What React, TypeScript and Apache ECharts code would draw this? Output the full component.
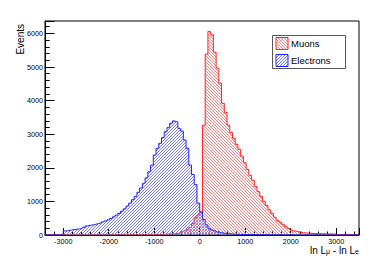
import React, { useEffect, useRef } from "react";
import * as echarts from "echarts";

const xMin = -3400;
const xMax = 3500;
const yMax = 6370;
const binStart = -3000;
const binWidth = 60;
const xTickLabels = [-3000, -2000, -1000, 0, 1000, 2000, 3000];
const yTickLabels = [0, 1000, 2000, 3000, 4000, 5000, 6000];
const seriesNames = ["Muons", "Electrons"];

const muonCounts = [
  0, 0, 0, 0, 0, 0, 0, 0, 0, 0,
  0, 0, 0, 0, 0, 0, 2, 0, 3, 2,
  4, 3, 5, 6, 5, 8, 7, 9, 10, 12,
  12, 14, 13, 16, 18, 20, 22, 25, 28, 33,
  38, 45, 65, 90, 120, 160, 220, 340, 520, 600,
  680, 3270, 5385, 6060, 5960, 5440, 4970, 4520, 3920, 3650,
  3270, 3050, 2880, 2700, 2550, 2350, 2150, 1950, 1780, 1630,
  1450, 1290, 1150, 1000, 880, 750, 650, 530, 430, 380,
  320, 250, 190, 150, 120, 100, 85, 70, 60, 55,
  50, 45, 40, 42, 35, 38, 30, 33, 28, 25,
];

const electronCounts = [
  120, 130, 150, 160, 170, 180, 200, 230, 270, 290,
  300, 320, 340, 360, 390, 420, 450, 490, 540, 590,
  640, 710, 780, 860, 950, 1050, 1150, 1270, 1400, 1540,
  1700, 1880, 2080, 2380, 2580, 2730, 2900, 3075, 3195, 3325,
  3395, 3370, 3175, 3095, 2830, 2580, 2080, 1800, 1500, 950,
  690, 460, 300, 200, 150, 120, 90, 70, 55, 45,
  35, 30, 25, 22, 20, 18, 15, 12, 12, 10,
  10, 8, 8, 7, 6, 5, 5, 4, 4, 3,
  3, 3, 2, 2, 2, 1, 1, 1, 0, 1,
  0, 0, 1, 0, 0, 0, 0, 0, 0, 0,
];

function histPoints(counts: number[]) {
  const pts: number[][] = [[xMin, 0], [binStart, 0]];
  counts.forEach((c, i) => pts.push([binStart + i * binWidth, c]));
  const end = binStart + counts.length * binWidth;
  pts.push([end, counts[counts.length - 1]]);
  pts.push([end, 0]);
  pts.push([xMax, 0]);
  return pts;
}

function makeHatch(rgb: number[], dir: number) {
  const s = 12;
  const p = 3;
  const c = document.createElement("canvas");
  c.width = s;
  c.height = s;
  const g = c.getContext("2d")!;
  const img = g.createImageData(s, s);
  for (let y = 0; y < s; y++) {
    for (let x = 0; x < s; x++) {
      const on = dir > 0 ? (x - y + s * 4) % p === 0 : (x + y) % p === 0;
      if (on) {
        const i = (y * s + x) * 4;
        img.data[i] = rgb[0];
        img.data[i + 1] = rgb[1];
        img.data[i + 2] = rgb[2];
        img.data[i + 3] = 255;
      }
    }
  }
  g.putImageData(img, 0, 0);
  return { image: c, repeat: "repeat", imageWidth: s, imageHeight: s } as any;
}

const FONT = "Liberation Sans, Arial, Helvetica, sans-serif";

export default function App() {
  const ref = useRef<HTMLDivElement>(null);
  useEffect(() => {
    if (!ref.current) return;
    const chart = echarts.init(ref.current, undefined, { renderer: "svg" });
    const redRGB = [255, 120, 120];
    const blueRGB = [120, 120, 255];
    const redHatch = makeHatch(redRGB, 1);
    const blueHatch = makeHatch(blueRGB, -1);
    const redHatch2 = makeHatch(redRGB, 1);
    const blueHatch2 = makeHatch(blueRGB, -1);
    const labelFmt = (list: number[]) => (v: number) =>
      list.includes(Math.round(v)) ? String(Math.round(v)) : "";
    const option: any = {
      animation: false,
      grid: {
        left: 45,
        right: 33,
        top: 21,
        bottom: 31,
        show: true,
        borderColor: "#000",
        borderWidth: 1,
        backgroundColor: "transparent",
      },
      xAxis: [
        {
          type: "value",
          position: "bottom",
          min: xMin,
          max: xMax,
          interval: 200,
          axisLine: { show: true, onZero: false, lineStyle: { color: "#000", width: 1 } },
          axisTick: { show: true, inside: true, length: 3.5, lineStyle: { color: "#000" } },
          axisLabel: {
            formatter: labelFmt(xTickLabels),
            fontSize: 7.2,
            fontFamily: FONT,
            color: "#000",
            margin: 2.5,
          },
          splitLine: { show: false },
        },
        {
          type: "value",
          position: "bottom",
          min: xMin,
          max: xMax,
          axisLine: { show: false, onZero: false },
          axisTick: { show: true, inside: true, length: 7, lineStyle: { color: "#000" } },
          axisLabel: { show: false },
          splitLine: { show: false },
        },
      ],
      yAxis: [
        {
          type: "value",
          position: "left",
          min: 0,
          max: yMax,
          interval: 200,
          axisLine: { show: true, onZero: false, lineStyle: { color: "#000", width: 1 } },
          axisTick: { show: true, inside: true, length: 4.7, lineStyle: { color: "#000" } },
          axisLabel: {
            formatter: labelFmt(yTickLabels),
            fontSize: 7.2,
            fontFamily: FONT,
            color: "#000",
            margin: 2,
          },
          splitLine: { show: false },
        },
        {
          type: "value",
          position: "left",
          min: 0,
          max: yMax,
          interval: 1000,
          axisLine: { show: false, onZero: false },
          axisTick: { show: true, inside: true, length: 9.5, lineStyle: { color: "#000" } },
          axisLabel: { show: false },
          splitLine: { show: false },
        },
      ],
      series: [
        {
          type: "line",
          name: seriesNames[0],
          data: histPoints(muonCounts),
          step: "end",
          showSymbol: false,
          symbol: "none",
          silent: true,
          lineStyle: { color: "#ff2020", width: 1 },
          itemStyle: { color: "#ff2020" },
          areaStyle: { color: redHatch, opacity: 1 },
          z: 2,
        },
        {
          type: "line",
          name: seriesNames[1],
          data: histPoints(electronCounts),
          step: "end",
          showSymbol: false,
          symbol: "none",
          silent: true,
          lineStyle: { color: "#2020ff", width: 1 },
          itemStyle: { color: "#2020ff" },
          areaStyle: { color: blueHatch, opacity: 1 },
          z: 3,
        },
      ],
      graphic: [
        {
          type: "text",
          x: 20.5,
          y: 24,
          rotation: Math.PI / 2,
          style: {
            text: "Events",
            fontSize: 10,
            fontFamily: FONT,
            fill: "#000",
            align: "right",
            verticalAlign: "middle",
          },
        },
        {
          type: "text",
          x: 359,
          y: 250,
          style: {
            text: "{a|ln L}{s|μ}{a| - ln L}{s|e}",
            align: "right",
            verticalAlign: "middle",
            fill: "#000",
            rich: {
              a: { fontSize: 10, fontFamily: FONT, lineHeight: 10, fill: "#000" },
              s: { fontSize: 7, fontFamily: FONT, lineHeight: 4, verticalAlign: "bottom", fill: "#000" },
            },
          },
        },
        {
          type: "rect",
          shape: { x: 272.5, y: 35.5, width: 73, height: 33 },
          style: { fill: "#fff", stroke: "#555", lineWidth: 1 },
          z: 10,
        },
        {
          type: "rect",
          shape: { x: 276, y: 37.5, width: 12, height: 12 },
          style: { fill: redHatch2, stroke: "#ff2020", lineWidth: 1 },
          z: 11,
        },
        {
          type: "rect",
          shape: { x: 276, y: 54.5, width: 12, height: 12 },
          style: { fill: blueHatch2, stroke: "#2020ff", lineWidth: 1 },
          z: 11,
        },
        {
          type: "text",
          x: 291,
          y: 43.5,
          z: 11,
          style: {
            text: seriesNames[0],
            fontSize: 9.5,
            fontFamily: FONT,
            fill: "#000",
            align: "left",
            verticalAlign: "middle",
          },
        },
        {
          type: "text",
          x: 291,
          y: 60.5,
          z: 11,
          style: {
            text: seriesNames[1],
            fontSize: 9.5,
            fontFamily: FONT,
            fill: "#000",
            align: "left",
            verticalAlign: "middle",
          },
        },
      ],
    };
    chart.setOption(option);
    return () => chart.dispose();
  }, []);
  return (
    <div
      ref={ref}
      style={{ position: "absolute", left: 0, top: 0, width: 392, height: 266, background: "#fff" }}
    />
  );
}
